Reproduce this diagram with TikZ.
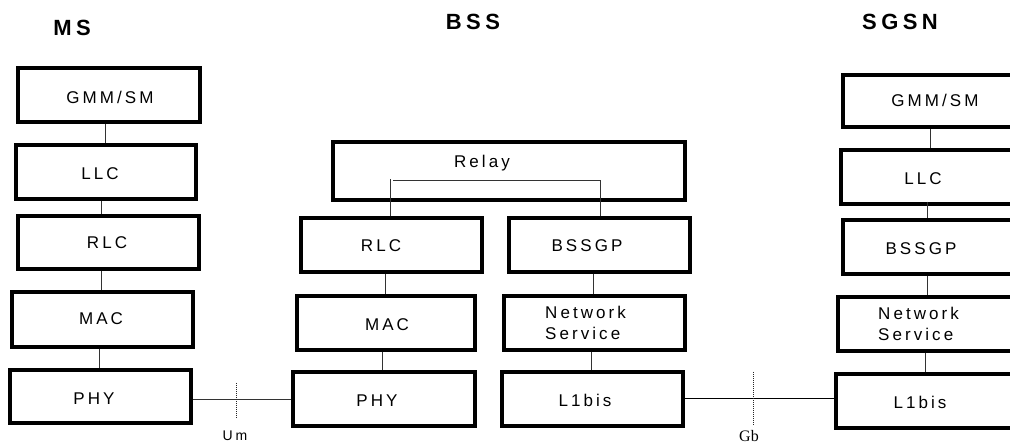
\documentclass[tikz,border=0pt]{standalone}
\usepackage{fontspec}
\setmainfont{Liberation Sans}
\newfontfamily\boxfont[LetterSpace=18]{Liberation Sans}
\newfontfamily\titlefont[LetterSpace=20]{Liberation Sans}
\newfontfamily\gbfont{Liberation Serif}
\tikzset{
  box/.style={draw=black, line width=3.2pt, inner sep=0pt},
  lbl/.style={inner sep=0pt, font=\boxfont\fontsize{17}{21}\selectfont, text height=12.2pt, text depth=0pt},
  ttl/.style={inner sep=0pt, font=\titlefont\bfseries\fontsize{22}{24}\selectfont, text height=15.8pt, text depth=0pt},
  conn/.style={draw=black!80, line width=1pt},
  iface/.style={draw=black!85, line width=1pt, dash pattern=on 1.2pt off 0.8pt},
}
\newcommand{\mybox}[5]{% name, x1, y1, x2, y2
  \node[box, minimum width={#4-#2}, minimum height={#5-#3}] (#1) at ({(#2+#4)/2},{(#3+#5)/2}) {};}
\begin{document}
\begin{tikzpicture}[x=1pt,y=-1pt]
\useasboundingbox (0,0) rectangle (1010,443);
\clip (0,0) rectangle (1010,443);

% titles
\node[ttl] (tms) at (72,28) {MS};
\node[ttl] (tbss) at (473,22) {BSS};
\node[ttl] (tsgsn) at (900,22) {SGSN};

% MS stack
\mybox{msgmm}{18}{68}{200}{122}
\mybox{msllc}{16}{145}{196}{199}
\mybox{msrlc}{18}{216}{199}{269}
\mybox{msmac}{12}{292}{193}{347}
\mybox{msphy}{10}{370}{191}{423}
\node[lbl] (msgmmt) at (110,97) {GMM/SM};
\node[lbl] (msllct) at (100,173) {LLC};
\node[lbl] (msrlct) at (107,242) {RLC};
\node[lbl] (msmact) at (101,318) {MAC};
\node[lbl] (msphyt) at (94,398) {PHY};

% BSS stack
\mybox{bssrelay}{333}{142}{685}{200}
\mybox{bssrlc}{301}{218}{482}{272}
\mybox{bssbssgp}{509}{218}{690}{272}
\mybox{bssmac}{297}{296}{475}{350}
\mybox{bssns}{504}{296}{685}{350}
\mybox{bssphy}{293}{372}{475}{426}
\mybox{bssl1}{502}{372}{683}{426}
\node[lbl] (bssrelayt) at (482,161) {Relay};
\node[lbl] (bssrlct) at (381,245) {RLC};
\node[lbl] (bssbssgpt) at (587,245) {BSSGP};
\node[lbl] (bssmact) at (387,324) {MAC};
\node[lbl, align=left, anchor=west, text height=, text depth=] (bssnst) at (545,323) {Network\\Service};
\node[lbl] (bssphyt) at (377,400) {PHY};
\node[lbl] (bssl1t) at (585,400) {L1bis};

% SGSN stack
\mybox{sggmm}{843}{75}{1023}{127}
\mybox{sgllc}{841}{150}{1023}{204}
\mybox{sgbssgp}{843}{220}{1023}{274}
\mybox{sgns}{838}{297}{1023}{351}
\mybox{sgl1}{836}{374}{1023}{428}
\node[lbl] (sggmmt) at (935,100) {GMM/SM};
\node[lbl] (sgllct) at (923,178) {LLC};
\node[lbl] (sgbssgpt) at (921,248) {BSSGP};
\node[lbl, align=left, anchor=west, text height=, text depth=] (sgnst) at (878,324) {Network\\Service};
\node[lbl] (sgl1t) at (920,402) {L1bis};

% x positions of vertical connectors
\coordinate (a1) at (105,0);
\coordinate (a2) at (101,0);
\coordinate (a3) at (101,0);
\coordinate (a4) at (99,0);
\coordinate (b1) at (385,0);
\coordinate (b2) at (382,0);
\coordinate (b3) at (593,0);
\coordinate (b4) at (591,0);
\coordinate (c1) at (930,0);
\coordinate (c2) at (927,0);
\coordinate (c3) at (927,0);
\coordinate (c4) at (925,0);

% MS connectors
\draw[conn] (msgmm.south -| a1) -- (msllc.north -| a1);
\draw[conn] (msllc.south -| a2) -- (msrlc.north -| a2);
\draw[conn] (msrlc.south -| a3) -- (msmac.north -| a3);
\draw[conn] (msmac.south -| a4) -- (msphy.north -| a4);

% BSS connectors
\draw[conn] (bssrlc.south -| b1) -- (bssmac.north -| b1);
\draw[conn] (bssmac.south -| b2) -- (bssphy.north -| b2);
\draw[conn] (bssbssgp.south -| b3) -- (bssns.north -| b3);
\draw[conn] (bssns.south -| b4) -- (bssl1.north -| b4);

% relay path
\coordinate (r1) at (390,179);
\coordinate (r2) at (393,180);
\coordinate (r3) at (600,180);
\draw[conn, line width=0.8pt] (bssrlc.north -| r1) -- (r1);
\draw[conn, line width=0.8pt] (r2) -- (r3) -- (bssbssgp.north -| r3);

% SGSN connectors
\draw[conn] (sggmm.south -| c1) -- (sgllc.north -| c1);
\draw[conn] (sgllc.south -| c2) ++(0,-4) -- (sgbssgp.north -| c2);
\draw[conn] (sgbssgp.south -| c3) -- (sgns.north -| c3);
\draw[conn] (sgns.south -| c4) -- (sgl1.north -| c4);

% interfaces
\coordinate (um) at (0,400);
\coordinate (gb) at (0,399);
\draw[conn] (msphy.east |- um) -- (bssphy.west |- um);
\draw[conn, draw=black] (bssl1.east |- gb) -- (sgl1.west |- gb);
\coordinate (umtop) at (236,383);
\coordinate (umbot) at (236,418);
\coordinate (gbtop) at (753,372);
\coordinate (gbbot) at (753,425);
\draw[iface] (umtop) -- (umbot);
\draw[iface] (gbtop) -- (gbbot);
\node[inner sep=0pt, font=\titlefont\fontsize{14}{16}\selectfont, text height=10pt, text depth=0pt] (umt) at (235,436) {Um};
\node[inner sep=0pt, font=\gbfont\fontsize{16}{18}\selectfont, text height=10.5pt, text depth=0pt] (gbt) at (749,436) {Gb};
\end{tikzpicture}
\end{document}
